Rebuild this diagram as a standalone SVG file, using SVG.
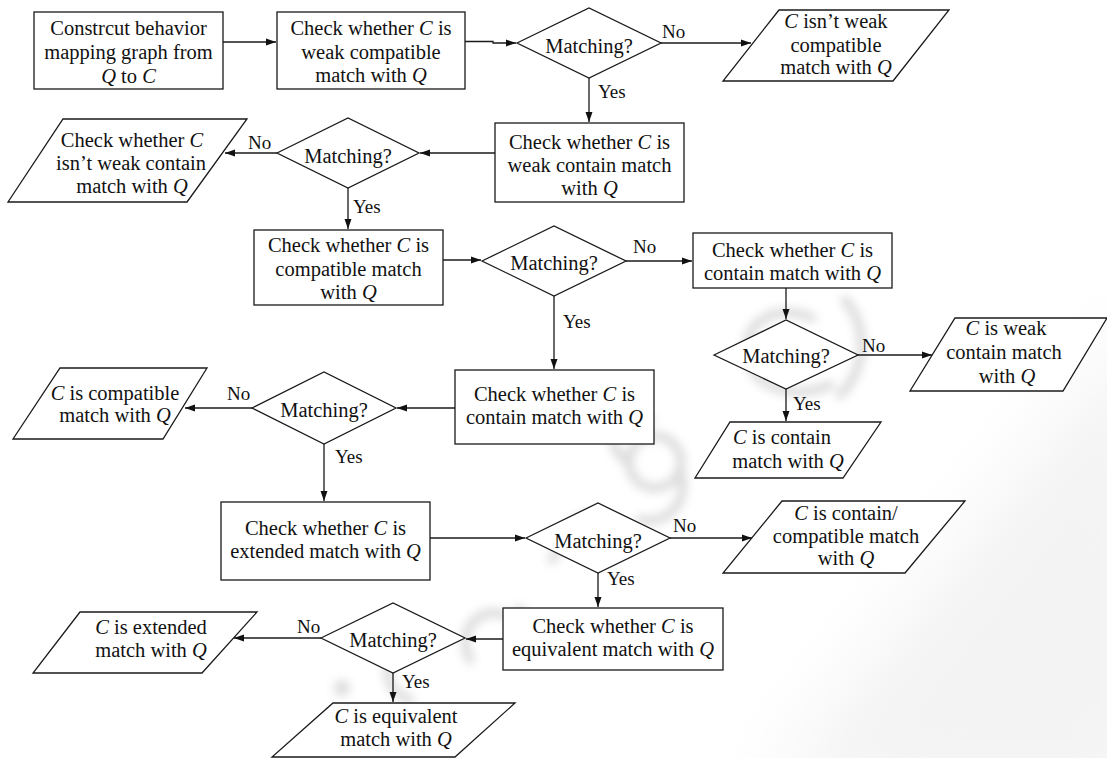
<svg xmlns="http://www.w3.org/2000/svg" width="1107" height="758" viewBox="0 0 1107 758">
  <style>
    .shape { fill: #ffffff; stroke: #1a1a1a; stroke-width: 1.3; }
    .edge { fill: none; stroke: #1a1a1a; stroke-width: 1.3; marker-end: url(#arrow); }
    .t { font-family: "Liberation Serif", "Times New Roman", serif; font-size: 20.5px; fill: #111; text-anchor: middle; }
    .lbl { font-family: "Liberation Serif", "Times New Roman", serif; font-size: 19px; fill: #111; }
    .i { font-style: italic; }
    .wm { fill: none; stroke: #8c8c8c; stroke-width: 9; stroke-linecap: round; }
  </style>
  <defs>
    <marker id="arrow" markerUnits="userSpaceOnUse" markerWidth="11" markerHeight="8" refX="10" refY="4" orient="auto">
      <path d="M0,0.5 L10,4 L0,7.5 z" fill="#111"/>
    </marker>
    <filter id="soft" x="-50%" y="-50%" width="200%" height="200%">
      <feGaussianBlur stdDeviation="5"/>
    </filter>
    <filter id="wide" x="-20%" y="-20%" width="140%" height="140%">
      <feGaussianBlur stdDeviation="40"/>
    </filter>
  </defs>
  <rect width="1107" height="758" fill="#ffffff"/>

  <!-- faint background shading and blurred stamp behind the chart -->
  <polygon points="760,800 1160,300 1160,800" fill="#f3f3f3" filter="url(#wide)"/>
  <g id="stamp" opacity="0.3" filter="url(#soft)">
    <path class="wm" d="M812,318 C770,300 735,330 750,365 C762,392 800,398 830,385"/>
    <path class="wm" d="M845,300 C870,330 865,370 840,395"/>
    <circle class="wm" cx="655" cy="462" r="26"/>
    <path class="wm" d="M680,470 C690,500 670,525 640,520"/>
    <path class="wm" d="M552,560 L575,520 M570,530 C580,515 595,512 605,518"/>
    <circle cx="520" cy="612" r="7" fill="#8c8c8c"/>
    <path class="wm" d="M470,660 C455,630 480,605 505,615"/>
    <path class="wm" d="M410,700 C385,690 380,665 400,655"/>
    <circle cx="342" cy="688" r="8" fill="#8c8c8c"/>
    <path class="wm" d="M625,460 C600,440 620,415 650,420"/>
  </g>

  <!-- connectors -->
  <g id="connectors">
    <path class="edge" d="M223,42 H276"/>
    <path class="edge" d="M465,41.5 H493 V43 H516"/>
    <path class="edge" d="M661,43 H751"/>
    <path class="edge" d="M589,78 V122"/>
    <path class="edge" d="M495,153 H420"/>
    <path class="edge" d="M277,153 H225"/>
    <path class="edge" d="M348,188 V229"/>
    <path class="edge" d="M443,260 H481"/>
    <path class="edge" d="M626,261 H692"/>
    <path class="edge" d="M554,296 V369"/>
    <path class="edge" d="M786,288 V319"/>
    <path class="edge" d="M858,355 H932"/>
    <path class="edge" d="M786,389 V421"/>
    <path class="edge" d="M455,408 H397"/>
    <path class="edge" d="M252,408 H185"/>
    <path class="edge" d="M324,444 V501"/>
    <path class="edge" d="M430,538 H525"/>
    <path class="edge" d="M670,538 H752"/>
    <path class="edge" d="M598,573 V607"/>
    <path class="edge" d="M503,639 H466"/>
    <path class="edge" d="M321,638 H234"/>
    <path class="edge" d="M393,673 V702"/>
  </g>

  <!-- edge labels -->
  <g id="labels" class="lbl">
    <text x="662" y="38">No</text>
    <text x="598" y="98">Yes</text>
    <text x="248" y="149">No</text>
    <text x="353" y="213">Yes</text>
    <text x="633" y="253">No</text>
    <text x="563" y="328">Yes</text>
    <text x="862" y="352">No</text>
    <text x="793" y="410">Yes</text>
    <text x="227" y="400">No</text>
    <text x="335" y="463">Yes</text>
    <text x="673" y="532">No</text>
    <text x="607" y="585">Yes</text>
    <text x="297" y="633">No</text>
    <text x="402" y="688">Yes</text>
  </g>

  <!-- process boxes -->
  <g id="construct">
    <rect class="shape" x="34" y="12" width="189" height="77"/>
    <text class="t"><tspan x="128.5" y="35">Constrcut behavior</tspan><tspan x="128.5" y="59">mapping graph from</tspan><tspan x="128.5" y="83"><tspan class="i">Q</tspan> to <tspan class="i">C</tspan></tspan></text>
  </g>
  <g id="check-weak-compatible">
    <rect class="shape" x="277" y="12" width="188" height="77"/>
    <text class="t"><tspan x="371" y="35">Check whether <tspan class="i">C</tspan> is</tspan><tspan x="371" y="59">weak compatible</tspan><tspan x="371" y="82">match with <tspan class="i">Q</tspan></tspan></text>
  </g>
  <g id="check-weak-contain">
    <rect class="shape" x="495" y="123" width="189" height="79"/>
    <text class="t"><tspan x="589.5" y="149">Check whether <tspan class="i">C</tspan> is</tspan><tspan x="589.5" y="172">weak contain match</tspan><tspan x="589.5" y="195">with <tspan class="i">Q</tspan></tspan></text>
  </g>
  <g id="check-compatible">
    <rect class="shape" x="254" y="230" width="189" height="75"/>
    <text class="t"><tspan x="348.5" y="252">Check whether <tspan class="i">C</tspan> is</tspan><tspan x="348.5" y="276">compatible match</tspan><tspan x="348.5" y="299">with <tspan class="i">Q</tspan></tspan></text>
  </g>
  <g id="check-contain-a">
    <rect class="shape" x="693" y="233" width="199" height="55"/>
    <text class="t"><tspan x="792.5" y="257">Check whether <tspan class="i">C</tspan> is</tspan><tspan x="792.5" y="280">contain match with <tspan class="i">Q</tspan></tspan></text>
  </g>
  <g id="check-contain-b">
    <rect class="shape" x="455" y="370" width="199" height="74"/>
    <text class="t"><tspan x="554.5" y="401">Check whether <tspan class="i">C</tspan> is</tspan><tspan x="554.5" y="424">contain match with <tspan class="i">Q</tspan></tspan></text>
  </g>
  <g id="check-extended">
    <rect class="shape" x="221" y="502" width="209" height="78"/>
    <text class="t"><tspan x="325.5" y="535">Check whether <tspan class="i">C</tspan> is</tspan><tspan x="325.5" y="558">extended match with <tspan class="i">Q</tspan></tspan></text>
  </g>
  <g id="check-equivalent">
    <rect class="shape" x="503" y="608" width="220" height="62"/>
    <text class="t"><tspan x="613" y="633">Check whether <tspan class="i">C</tspan> is</tspan><tspan x="613" y="656">equivalent match with <tspan class="i">Q</tspan></tspan></text>
  </g>

  <!-- decisions -->
  <g id="decision-1">
    <polygon class="shape" points="517,43 589,8 661,43 589,78"/>
    <text class="t" x="589" y="53">Matching?</text>
  </g>
  <g id="decision-2">
    <polygon class="shape" points="277,153 348,118 419,153 348,188"/>
    <text class="t" x="348" y="163">Matching?</text>
  </g>
  <g id="decision-3">
    <polygon class="shape" points="252,408 324,372 396,408 324,444"/>
    <text class="t" x="324" y="417">Matching?</text>
  </g>
  <g id="decision-4">
    <polygon class="shape" points="482,261 554,226 626,261 554,296"/>
    <text class="t" x="554" y="270">Matching?</text>
  </g>
  <g id="decision-5">
    <polygon class="shape" points="714,355 786,320 858,355 786,389"/>
    <text class="t" x="786" y="363">Matching?</text>
  </g>
  <g id="decision-6">
    <polygon class="shape" points="526,538 598,503 670,538 598,573"/>
    <text class="t" x="598" y="548">Matching?</text>
  </g>
  <g id="decision-7">
    <polygon class="shape" points="321,638 393,603 465,638 393,673"/>
    <text class="t" x="393" y="647">Matching?</text>
  </g>

  <!-- results -->
  <g id="result-not-weak-compatible">
    <polygon class="shape" points="779,10 949,10 893,81 723,81"/>
    <text class="t"><tspan x="836" y="28"><tspan class="i">C</tspan> isn’t weak</tspan><tspan x="836" y="52">compatible</tspan><tspan x="836" y="74">match with <tspan class="i">Q</tspan></tspan></text>
  </g>
  <g id="result-not-weak-contain">
    <polygon class="shape" points="63,119 247,119 187,202 8,202"/>
    <text class="t"><tspan x="132" y="147">Check whether <tspan class="i">C</tspan></tspan><tspan x="131" y="170">isn’t weak contain</tspan><tspan x="132" y="193">match with <tspan class="i">Q</tspan></tspan></text>
  </g>
  <g id="result-compatible">
    <polygon class="shape" points="60,368 207,368 163,439 13,439"/>
    <text class="t"><tspan x="115" y="400"><tspan class="i">C</tspan> is compatible</tspan><tspan x="115" y="422">match with <tspan class="i">Q</tspan></tspan></text>
  </g>
  <g id="result-weak-contain">
    <polygon class="shape" points="955,318 1107,318 1063,391 910,391"/>
    <text class="t"><tspan x="1006" y="335"><tspan class="i">C</tspan> is weak</tspan><tspan x="1004" y="359">contain match</tspan><tspan x="1007" y="383">with <tspan class="i">Q</tspan></tspan></text>
  </g>
  <g id="result-contain">
    <polygon class="shape" points="730,422 881,422 843,478 695,478"/>
    <text class="t"><tspan x="782" y="444"><tspan class="i">C</tspan> is contain</tspan><tspan x="788" y="468">match with <tspan class="i">Q</tspan></tspan></text>
  </g>
  <g id="result-contain-compatible">
    <polygon class="shape" points="782,501 965,501 905,573 723,573"/>
    <text class="t"><tspan x="846" y="520"><tspan class="i">C</tspan> is contain/</tspan><tspan x="846" y="543">compatible match</tspan><tspan x="846" y="565">with <tspan class="i">Q</tspan></tspan></text>
  </g>
  <g id="result-extended">
    <polygon class="shape" points="80,612 257,612 202,673 33,673"/>
    <text class="t"><tspan x="151" y="634"><tspan class="i">C</tspan> is extended</tspan><tspan x="151" y="657">match with <tspan class="i">Q</tspan></tspan></text>
  </g>
  <g id="result-equivalent">
    <polygon class="shape" points="333,703 515,703 455,757 272,757"/>
    <text class="t"><tspan x="396" y="723"><tspan class="i">C</tspan> is equivalent</tspan><tspan x="396" y="746">match with <tspan class="i">Q</tspan></tspan></text>
  </g>
</svg>
